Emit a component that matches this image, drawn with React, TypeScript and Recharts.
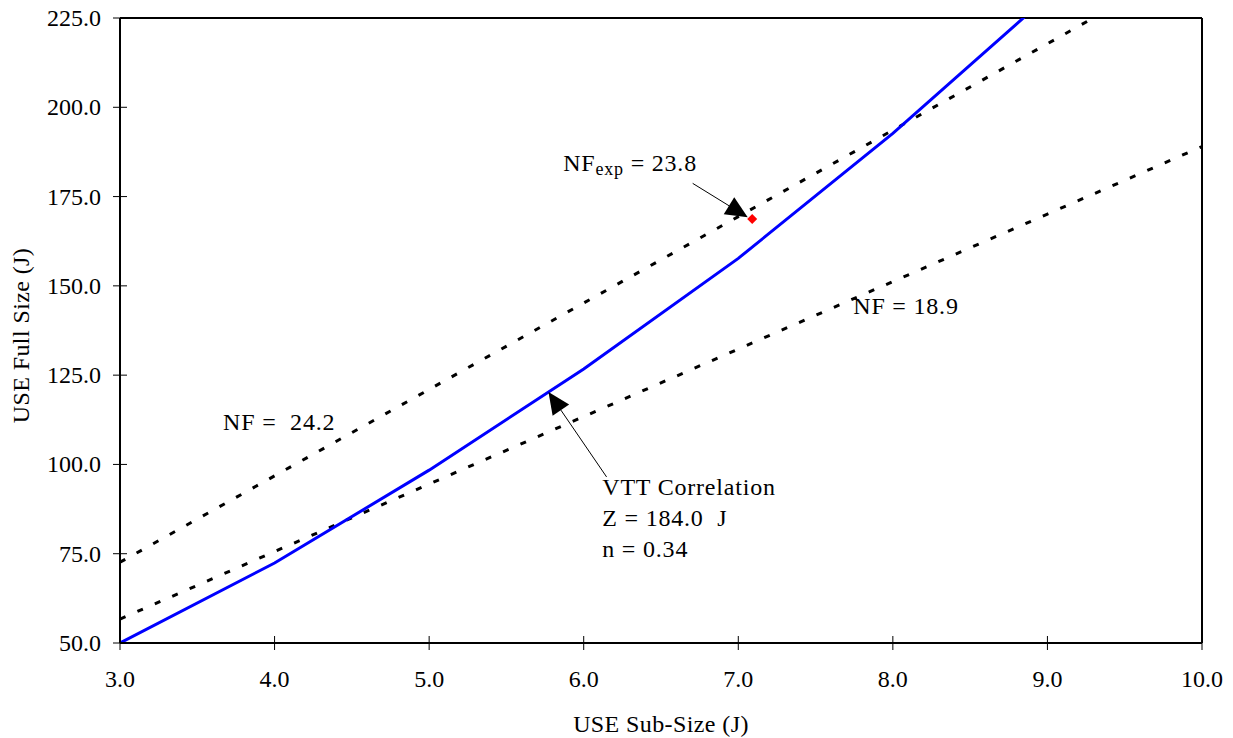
import React from 'react';
import {
  ComposedChart, Line, Scatter, XAxis, YAxis, ReferenceLine, ReferenceDot,
} from 'recharts';

// USE sub-size (J) on x, USE full size (J) on y
const vttX = [3.0, 4.0, 5.0, 6.0, 7.0, 8.0, 8.87];
const vttY = [50.0, 72.4, 98.4, 126.7, 157.7, 192.7, 226.0];

const nfLowX = [3, 4, 5, 6, 7, 8, 9, 10];
const nfLowY = [56.7, 75.6, 94.5, 113.4, 132.3, 151.2, 170.1, 189.0];

const nfHighX = [3, 4, 5, 6, 7, 8, 9, 9.35];
const nfHighY = [72.6, 96.8, 121.0, 145.2, 169.4, 193.6, 217.8, 226.3];

const expX = [7.09];
const expY = [168.7];

const xTicks = [3, 4, 5, 6, 7, 8, 9, 10];
const yTicks = [50, 75, 100, 125, 150, 175, 200, 225];

// annotation anchors, in data units
const nfHighLabel = { x: 3.667, y: 109.6 };
const nfLowLabel = { x: 7.744, y: 142.1 };
const nfExpLabel = { x: 5.867, y: 182.3 };
const vttLabel = { x: 6.12, y: 91.5 };
const nfExpArrow = [{ x: 6.705, y: 178.7 }, { x: 7.061, y: 169.2 }];
const vttArrow = [{ x: 6.148, y: 96.5 }, { x: 5.772, y: 120.3 }];

const FONT = 'Liberation Serif, Times New Roman, serif';
const FS = 24;

const vttData = vttX.map((x, i) => ({ x, y: vttY[i] }));
const lowData = nfLowX.map((x, i) => ({ x, y: nfLowY[i] }));
const highData = nfHighX.map((x, i) => ({ x, y: nfHighY[i] }));
const expData = expX.map((x, i) => ({ x, y: expY[i] }));

const XTick = ({ x, y, payload }: any) => (
  <g>
    <line x1={x} x2={x} y1={y - 7} y2={y + 7} stroke="#000" strokeWidth={1} />
    <text x={x} y={y + 44} textAnchor="middle" fontFamily={FONT} fontSize={FS} fill="#000">
      {Number(payload.value).toFixed(1)}
    </text>
  </g>
);

const YTick = ({ x, y, payload }: any) => (
  <g>
    <line x1={x - 7} x2={x + 7} y1={y} y2={y} stroke="#000" strokeWidth={1} />
    <text x={x - 19} y={y + 8} textAnchor="end" fontFamily={FONT} fontSize={FS} fill="#000">
      {Number(payload.value).toFixed(1)}
    </text>
  </g>
);

const Arrow = (props: any) => {
  const { x1, y1, x2, y2 } = props;
  const dx = x2 - x1;
  const dy = y2 - y1;
  const len = Math.hypot(dx, dy) || 1;
  const ux = dx / len;
  const uy = dy / len;
  const bx = x2 - ux * 22;
  const by = y2 - uy * 22;
  const px = -uy * 10;
  const py = ux * 10;
  return (
    <g>
      <line x1={x1} y1={y1} x2={bx} y2={by} stroke="#000" strokeWidth={1} />
      <polygon points={`${x2},${y2} ${bx + px},${by + py} ${bx - px},${by - py}`} fill="#000" />
    </g>
  );
};

const txt = {
  fontFamily: FONT,
  fontSize: FS,
  fill: '#000',
  letterSpacing: 0.8,
  style: { whiteSpace: 'pre' as const },
};

const Diamond = ({ cx, cy }: any) => (
  <polygon points={`${cx},${cy - 5} ${cx + 5},${cy} ${cx},${cy + 5} ${cx - 5},${cy}`} fill="#ff0000" />
);

export default function App() {
  return (
    <div style={{ position: 'absolute', left: 0, top: 0, background: '#fff' }}>
      <ComposedChart width={1233} height={738} margin={{ top: 18, right: 31, bottom: 0, left: 0 }}>
        <XAxis
          type="number"
          dataKey="x"
          domain={[3, 10]}
          ticks={xTicks}
          allowDataOverflow
          height={95}
          stroke="#000"
          strokeWidth={2}
          tickLine={false}
          tickSize={0}
          tickMargin={0}
          tick={<XTick />}
          interval={0}
          label={(p: any) => {
            const vb = p.viewBox;
            return (
              <text x={vb.x + vb.width / 2} y={vb.y + 89} textAnchor="middle" {...txt} letterSpacing={0.4}>
                USE Sub-Size (J)
              </text>
            );
          }}
        />
        <YAxis
          type="number"
          domain={[50, 225]}
          ticks={yTicks}
          allowDataOverflow
          width={120}
          stroke="#000"
          strokeWidth={2}
          tickLine={false}
          tickSize={0}
          tickMargin={0}
          tick={<YTick />}
          interval={0}
          label={(p: any) => {
            const vb = p.viewBox;
            const cy = vb.y + vb.height / 2 + 5;
            return (
              <text x={28.5} y={cy} textAnchor="middle" transform={`rotate(-90, 28.5, ${cy})`} {...txt} letterSpacing={0.4}>
                USE Full Size (J)
              </text>
            );
          }}
        />
        <ReferenceLine y={225} stroke="#000" strokeWidth={2} />
        <ReferenceLine x={10} stroke="#000" strokeWidth={2} />

        <Line data={highData} dataKey="y" type="linear" stroke="#000" strokeWidth={3}
          strokeDasharray="6 13" dot={false} isAnimationActive={false} />
        <Line data={lowData} dataKey="y" type="linear" stroke="#000" strokeWidth={3}
          strokeDasharray="6 13" dot={false} isAnimationActive={false} />
        <Line data={vttData} dataKey="y" type="linear" stroke="#0000ff" strokeWidth={3}
          dot={false} isAnimationActive={false} />
        <Scatter data={expData} dataKey="y" shape={<Diamond />} isAnimationActive={false} />

        <ReferenceLine segment={nfExpArrow} shape={Arrow} />
        <ReferenceLine segment={vttArrow} shape={Arrow} />

        <ReferenceDot x={nfHighLabel.x} y={nfHighLabel.y} r={0}
          shape={(p: any) => <text x={p.cx} y={p.cy} {...txt}>{'NF =  24.2'}</text>} />
        <ReferenceDot x={nfLowLabel.x} y={nfLowLabel.y} r={0}
          shape={(p: any) => <text x={p.cx} y={p.cy} {...txt}>{'NF = 18.9'}</text>} />
        <ReferenceDot x={nfExpLabel.x} y={nfExpLabel.y} r={0}
          shape={(p: any) => (
            <text x={p.cx} y={p.cy} {...txt}>
              <tspan>NF</tspan>
              <tspan fontSize={18} dy={4}>exp</tspan>
              <tspan dy={-4}>{' = 23.8'}</tspan>
            </text>
          )} />
        <ReferenceDot x={vttLabel.x} y={vttLabel.y} r={0}
          shape={(p: any) => (
            <text x={p.cx} y={p.cy} {...txt}>
              <tspan x={p.cx}>VTT Correlation</tspan>
              <tspan x={p.cx} dy={31}>{'Z = 184.0  J'}</tspan>
              <tspan x={p.cx} dy={31}>{'n = 0.34'}</tspan>
            </text>
          )} />
      </ComposedChart>
    </div>
  );
}
